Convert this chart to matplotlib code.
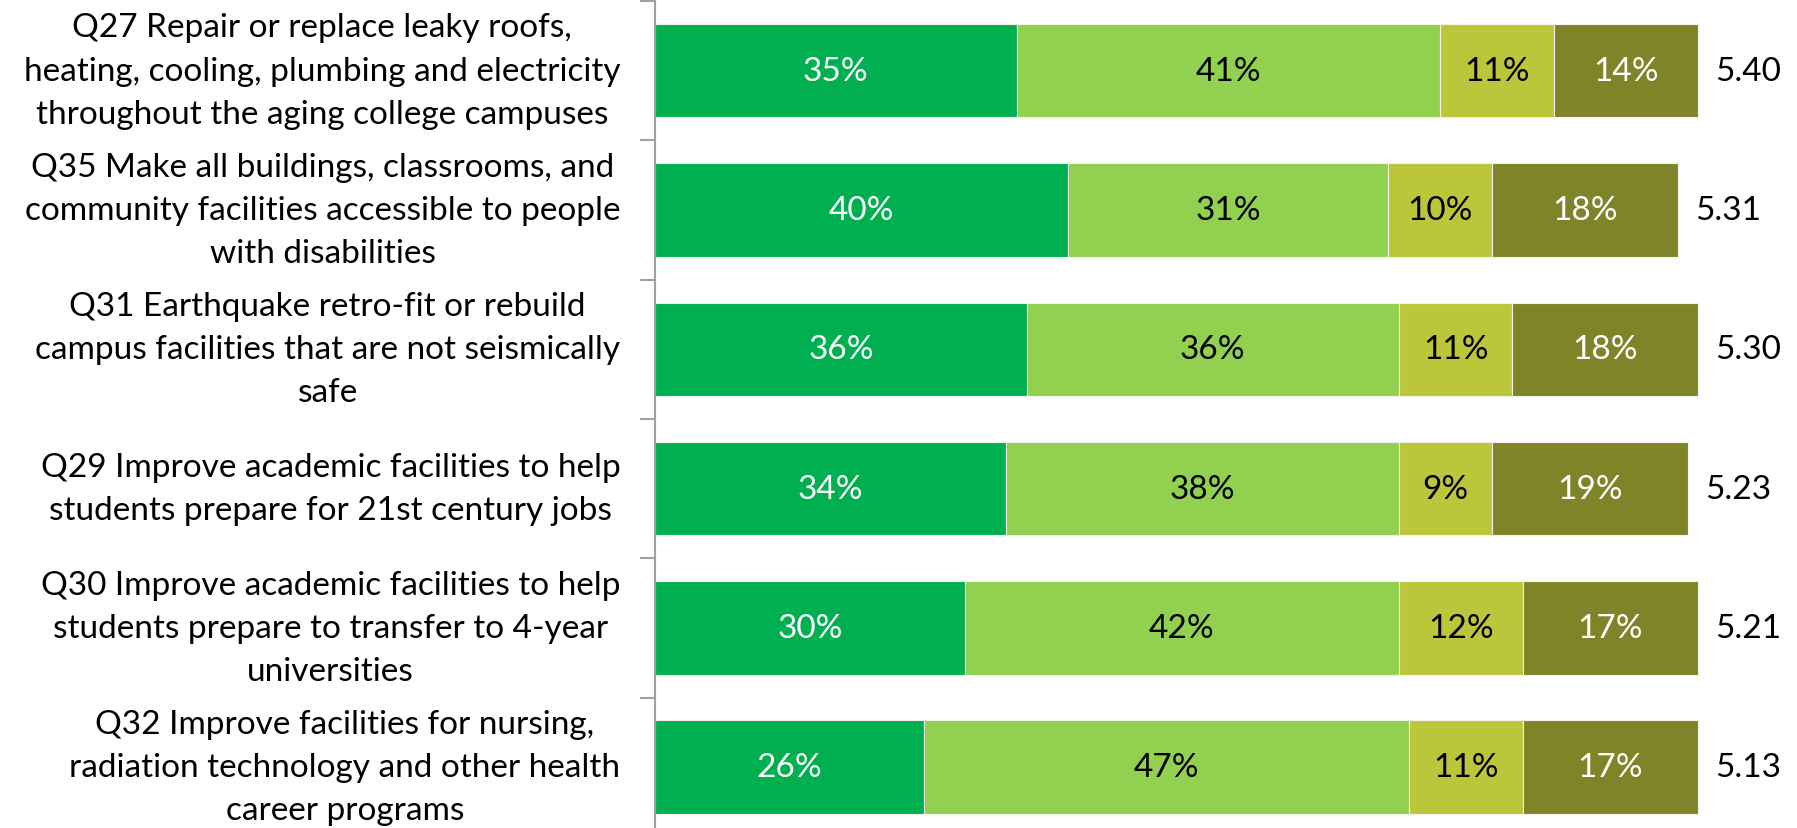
import numpy as np
import matplotlib
matplotlib.use("Agg")
import matplotlib.pyplot as plt

plt.rcParams['font.family'] = ['Lato', 'DejaVu Sans']

questions = [
    "Q27 Repair or replace leaky roofs,\nheating, cooling, plumbing and electricity\nthroughout the aging college campuses",
    "Q35 Make all buildings, classrooms, and\ncommunity facilities accessible to people\nwith disabilities",
    "Q31 Earthquake retro-fit or rebuild\ncampus facilities that are not seismically\nsafe",
    "Q29 Improve academic facilities to help\nstudents prepare for 21st century jobs",
    "Q30 Improve academic facilities to help\nstudents prepare to transfer to 4-year\nuniversities",
    "Q32 Improve facilities for nursing,\nradiation technology and other health\ncareer programs",
]
seg1 = [35, 40, 36, 34, 30, 26]
seg2 = [41, 31, 36, 38, 42, 47]
seg3 = [11, 10, 11, 9, 12, 11]
seg4 = [14, 18, 18, 19, 17, 17]
means = [5.40, 5.31, 5.30, 5.23, 5.21, 5.13]

colors = ['#00AF50', '#92D050', '#BCC63A', '#7F8428']
txtcolors = ['white', 'black', 'black', 'white']

W, H = 1797, 829
fig = plt.figure(figsize=(W / 100, H / 100), dpi=100)
# axes: left edge at x=655px, top at y=2px, category pitch ~139px
ax = fig.add_axes([655 / W, (H - 2 - 6 * 139.3) / H, (W - 655) / W, 6 * 139.3 / H])

y = np.arange(len(questions))
left = np.zeros(len(questions))
for vals, c, tc in zip([seg1, seg2, seg3, seg4], colors, txtcolors):
    vals = np.array(vals, dtype=float)
    ax.barh(y, vals, left=left, height=0.67, color=c, edgecolor='#F2F2E6', linewidth=0.8)
    for yi, l, v in zip(y, left, vals):
        ax.text(l + v / 2, yi, f"{int(v)}%", ha='center', va='center',
                color=tc, fontsize=24)
    left += vals

for yi, tot, m in zip(y, left, means):
    ax.annotate(f"{m:.2f}", xy=(tot, yi), xytext=(17, 0), textcoords='offset pixels',
                ha='left', va='center', fontsize=24, color='black')

ax.set_xlim(0, (W - 655) / 10.33)
ax.set_ylim(5.5, -0.5)
ax.set_yticks(y)
ax.set_yticklabels(questions, fontsize=24, multialignment='center',
                   linespacing=1.55, va='center')
ax.tick_params(axis='y', which='major', length=0, pad=25)
ax.set_yticks(np.arange(-0.5, 6.0, 1.0), minor=True)
ax.tick_params(axis='y', which='minor', length=11, width=1.5, color='#A0A0A0')
ax.set_xticks([])
for s in ['top', 'right', 'bottom']:
    ax.spines[s].set_visible(False)
ax.spines['left'].set_color('#A0A0A0')
ax.spines['left'].set_linewidth(1.5)

fig.savefig("out.png", dpi=100)
